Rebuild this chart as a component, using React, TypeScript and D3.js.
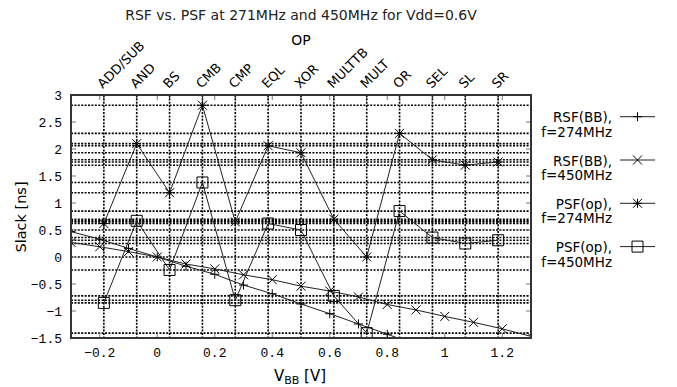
import React from 'react';
import * as d3 from 'd3';

const ops = ['ADD/SUB', 'AND', 'BS', 'CMB', 'CMP', 'EQL', 'XOR', 'MULTTB', 'MULT', 'OR', 'SEL', 'SL', 'SR'];
const opIndex = [1, 2, 3, 4, 5, 6, 7, 8, 9, 10, 11, 12, 13];
const psf274 = [0.62, 2.1, 1.19, 2.81, 0.65, 2.06, 1.93, 0.7, 0.0, 2.29, 1.8, 1.7, 1.76];
const psf450 = [-0.85, 0.67, -0.24, 1.38, -0.8, 0.62, 0.5, -0.72, -1.41, 0.85, 0.36, 0.25, 0.31];

const vbb274 = [-0.3, -0.2, -0.1, 0, 0.1, 0.2, 0.3, 0.4, 0.5, 0.6, 0.7, 0.8, 0.9];
const rsf274 = [0.47, 0.33, 0.16, 0, -0.17, -0.32, -0.52, -0.68, -0.87, -1.05, -1.24, -1.43, -1.62];
const vbb450 = [-0.3, -0.2, -0.1, 0, 0.1, 0.2, 0.3, 0.4, 0.5, 0.6, 0.7, 0.8, 0.9, 1.0, 1.1, 1.2, 1.3];
const rsf450 = [0.27, 0.19, 0.1, 0, -0.13, -0.22, -0.33, -0.42, -0.54, -0.63, -0.74, -0.88, -0.98, -1.1, -1.21, -1.33, -1.47];

const xTicks = [-0.2, 0, 0.2, 0.4, 0.6, 0.8, 1, 1.2];
const yTicks = [-1.5, -1, -0.5, 0, 0.5, 1, 1.5, 2, 2.5, 3];

const legendLabels = [
  ['RSF(BB),', 'f=274MHz'],
  ['RSF(BB),', 'f=450MHz'],
  ['PSF(op),', 'f=274MHz'],
  ['PSF(op),', 'f=450MHz'],
];

const L = 71, R = 531, T = 95, B = 338;
const x = d3.scaleLinear().domain([-0.3, 1.3]).range([L, R]);
const x2 = d3.scaleLinear().domain([0, 14]).range([L, R]);
const y = d3.scaleLinear().domain([-1.5, 3]).range([B, T]);

const LINE = '#222';
const sans = 'DejaVu Sans, Verdana, sans-serif';
const mono = 'Liberation Mono, DejaVu Sans Mono, monospace';

type Shape = 'plus' | 'cross' | 'star' | 'square';
function markerPath(s: Shape, cx: number, cy: number): string {
  const p = 4.5, c = 4.5, q = 5.5;
  const plus = `M${cx - p},${cy}H${cx + p}M${cx},${cy - p}V${cy + p}`;
  const cross = `M${cx - c},${cy - c}L${cx + c},${cy + c}M${cx - c},${cy + c}L${cx + c},${cy - c}`;
  if (s === 'plus') return plus;
  if (s === 'cross') return cross;
  if (s === 'star') return plus + cross;
  return `M${cx - q},${cy - q}H${cx + q}V${cy + q}H${cx - q}Z`;
}

const fmt = (v: number) => d3.format('')(v).replace('-', '\u2212');

export default function App() {
  const line = d3.line<[number, number]>().x(d => d[0]).y(d => d[1]);
  const rsf274Pts: [number, number][] = vbb274.map((v, i) => [x(v), y(rsf274[i])]);
  const rsf450Pts: [number, number][] = vbb450.map((v, i) => [x(v), y(rsf450[i])]);
  const psf274Pts: [number, number][] = opIndex.map((o, i) => [x2(o), y(psf274[i])]);
  const psf450Pts: [number, number][] = opIndex.map((o, i) => [x2(o), y(psf450[i])]);
  const series: { pts: [number, number][]; shape: Shape }[] = [
    { pts: rsf274Pts, shape: 'plus' },
    { pts: rsf450Pts, shape: 'cross' },
    { pts: psf274Pts, shape: 'star' },
    { pts: psf450Pts, shape: 'square' },
  ];
  const gridY = Array.from(new Set([...psf274, ...psf450]));

  return (
    <svg width={677} height={387} style={{ position: 'absolute', left: 0, top: 0, background: '#fff' }}>
      <defs>
        <clipPath id="plotclip">
          <rect x={L} y={T} width={R - L} height={B - T} />
        </clipPath>
      </defs>
      <rect x={0} y={0} width={677} height={387} fill="#fff" />
      {/* grid */}
      <g stroke="#000" strokeWidth={1.6} strokeDasharray="2 1.4" fill="none">
        {opIndex.map(o => (
          <line key={'vg' + o} x1={x2(o)} x2={x2(o)} y1={T} y2={B} />
        ))}
        {gridY.map((v, i) => (
          <line key={'hg' + i} x1={L} x2={R} y1={y(v)} y2={y(v)} />
        ))}
      </g>
      {/* ticks */}
      <g stroke="#777" strokeWidth={1}>
        {yTicks.map(v => (
          <g key={'yt' + v}>
            <line x1={L} x2={L + 5} y1={y(v)} y2={y(v)} />
            <line x1={R} x2={R - 5} y1={y(v)} y2={y(v)} />
          </g>
        ))}
        {xTicks.map(v => (
          <g key={'xt' + v}>
            <line x1={x(v)} x2={x(v)} y1={B} y2={B - 5} />
            <line x1={x(v)} x2={x(v)} y1={T} y2={T + 5} />
          </g>
        ))}
      </g>
      <g stroke="#222" strokeWidth={1}>
        {opIndex.map(o => (
          <line key={'x2t' + o} x1={x2(o)} x2={x2(o)} y1={T} y2={T + 5} />
        ))}
      </g>
      {/* data */}
      <g clipPath="url(#plotclip)">
        {series.map((s, i) => (
          <g key={'s' + i}>
            <path d={line(s.pts) || ''} fill="none" stroke={LINE} strokeWidth={1} />
            {s.pts.map((p, j) => (
              <path key={j} d={markerPath(s.shape, p[0], p[1])} fill="none" stroke="#000" strokeWidth={1} />
            ))}
          </g>
        ))}
      </g>
      {/* border */}
      <rect x={L} y={T} width={R - L} height={B - T} fill="none" stroke="#333" strokeWidth={2} />
      {/* y tick labels */}
      <g fontFamily={mono} fontSize={13} fill="#000" textAnchor="end">
        {yTicks.map(v => (
          <text key={'yl' + v} x={62} y={y(v) + 4.5}>{fmt(v)}</text>
        ))}
      </g>
      <g fontFamily={mono} fontSize={13} fill="#000" textAnchor="middle">
        {xTicks.map(v => (
          <text key={'xl' + v} x={x(v)} y={357}>{fmt(v)}</text>
        ))}
      </g>
      {/* op labels */}
      {ops.map((o, i) => {
        const ox = x2(opIndex[i]) - 1;
        const oy = 89;
        return (
          <g key={'op' + o} transform={`translate(${ox},${oy})`}>
            <g transform="rotate(-45)">
              <text x={0} y={0} textAnchor="start" fontFamily={sans} fontSize={13} fill="#000">
                {o}
              </text>
            </g>
          </g>
        );
      })}
      <text x={(L + R) / 2} y={45} textAnchor="middle" fontFamily={sans} fontSize={14} fill="#000">OP</text>
      <text x={(L + R) / 2} y={20} textAnchor="middle" fontFamily={sans} fontSize={14} fill="#222">
        RSF vs. PSF at 271MHz and 450MHz for Vdd=0.6V
      </text>
      <text transform="translate(25.5,217) rotate(-90)" textAnchor="middle" fontFamily={sans} fontSize={14.5} fill="#000">
        Slack [ns]
      </text>
      <text x={300} y={381} textAnchor="middle" fontFamily={sans} fontSize={15} fill="#000">
        V<tspan fontSize={11} dy={3}>BB</tspan><tspan dy={-3}> [V]</tspan>
      </text>
      {/* legend */}
      {legendLabels.map((lab, i) => {
        const ly = 116.7 + 43.3 * i;
        const shapes: Shape[] = ['plus', 'cross', 'star', 'square'];
        return (
          <g key={'lg' + i}>
            <text x={612} y={ly + 5.5} textAnchor="end" fontFamily={sans} fontSize={13.5} fill="#000">{lab[0]}</text>
            <text x={612} y={ly + 20} textAnchor="end" fontFamily={sans} fontSize={13.5} fill="#000">{lab[1]}</text>
            <line x1={620} x2={655} y1={ly} y2={ly} stroke={LINE} strokeWidth={1} />
            <path d={markerPath(shapes[i], 637.5, ly)} fill="none" stroke="#000" strokeWidth={1} />
          </g>
        );
      })}
    </svg>
  );
}
